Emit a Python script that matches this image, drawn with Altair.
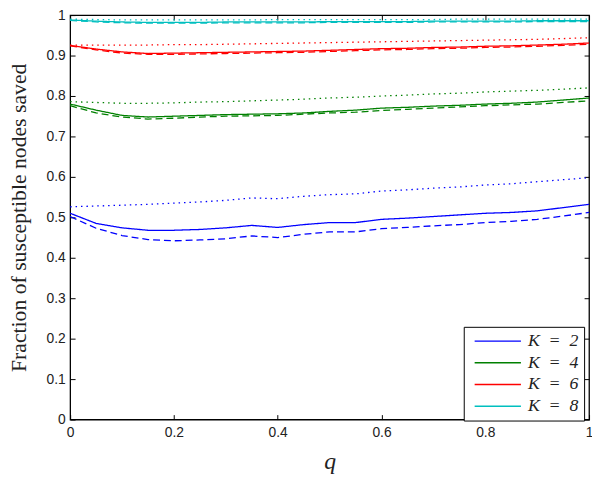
import altair as alt
import pandas as pd

q = [round(i * 0.05, 2) for i in range(21)]

k_labels = ["K\u2002=\u20022", "K\u2002=\u20024", "K\u2002=\u20026", "K\u2002=\u20028"]
k_colors = ["#0000ff", "#008000", "#ff0000", "#00bfbf"]
styles = ["solid", "dashed", "dotted"]
dashes = [[1, 0], [7, 4], [1.5, 4]]

k2_solid = [0.510, 0.485, 0.474, 0.468, 0.468, 0.470, 0.474, 0.480, 0.475, 0.482, 0.487,
            0.487, 0.495, 0.498, 0.502, 0.506, 0.510, 0.512, 0.516, 0.524, 0.532]
k2_dashed = [0.502, 0.473, 0.455, 0.445, 0.442, 0.444, 0.447, 0.454, 0.450, 0.458, 0.464,
             0.464, 0.472, 0.475, 0.479, 0.482, 0.487, 0.490, 0.495, 0.503, 0.512]
k2_dotted = [0.526, 0.528, 0.530, 0.532, 0.535, 0.538, 0.542, 0.548, 0.546, 0.552, 0.556,
             0.558, 0.565, 0.568, 0.572, 0.575, 0.580, 0.583, 0.588, 0.593, 0.598]

k4_solid = [0.780, 0.765, 0.752, 0.748, 0.750, 0.752, 0.754, 0.755, 0.756, 0.758, 0.762,
            0.765, 0.770, 0.772, 0.775, 0.777, 0.780, 0.782, 0.785, 0.790, 0.795]
k4_dashed = [0.776, 0.758, 0.748, 0.743, 0.745, 0.748, 0.750, 0.751, 0.752, 0.755, 0.758,
             0.760, 0.764, 0.767, 0.770, 0.773, 0.776, 0.778, 0.780, 0.784, 0.788]
k4_dotted = [0.786, 0.784, 0.782, 0.782, 0.783, 0.785, 0.786, 0.788, 0.790, 0.792, 0.795,
             0.797, 0.800, 0.802, 0.805, 0.807, 0.810, 0.812, 0.814, 0.817, 0.820]

k6_solid = [0.925, 0.916, 0.909, 0.905, 0.906, 0.907, 0.908, 0.909, 0.910, 0.911, 0.913,
            0.915, 0.917, 0.918, 0.920, 0.921, 0.923, 0.924, 0.926, 0.928, 0.931]
k6_dashed = [0.924, 0.914, 0.906, 0.903, 0.903, 0.904, 0.905, 0.906, 0.907, 0.908, 0.910,
             0.912, 0.914, 0.915, 0.917, 0.918, 0.920, 0.921, 0.923, 0.925, 0.928]
k6_dotted = [0.926, 0.926, 0.926, 0.926, 0.927, 0.927, 0.928, 0.929, 0.930, 0.931, 0.932,
             0.933, 0.934, 0.935, 0.936, 0.937, 0.938, 0.939, 0.940, 0.942, 0.944]

k8_solid = [0.988, 0.985, 0.983, 0.982, 0.982, 0.982, 0.983, 0.983, 0.983, 0.983, 0.984,
            0.984, 0.984, 0.984, 0.985, 0.985, 0.985, 0.985, 0.986, 0.986, 0.986]
k8_dashed = [0.987, 0.983, 0.981, 0.980, 0.980, 0.980, 0.981, 0.981, 0.981, 0.981, 0.982,
             0.982, 0.982, 0.982, 0.983, 0.983, 0.983, 0.983, 0.984, 0.984, 0.984]
k8_dotted = [0.990, 0.989, 0.988, 0.988, 0.988, 0.988, 0.988, 0.988, 0.989, 0.989, 0.989,
             0.989, 0.989, 0.989, 0.989, 0.990, 0.990, 0.990, 0.990, 0.990, 0.990]

x_ticks = [0, 0.2, 0.4, 0.6, 0.8, 1]
y_ticks = [round(i * 0.1, 1) for i in range(11)]

series = {
    k_labels[0]: [k2_solid, k2_dashed, k2_dotted],
    k_labels[1]: [k4_solid, k4_dashed, k4_dotted],
    k_labels[2]: [k6_solid, k6_dashed, k6_dotted],
    k_labels[3]: [k8_solid, k8_dashed, k8_dotted],
}
rows = []
for klab, lst in series.items():
    for style, vals in zip(styles, lst):
        for qi, v in zip(q, vals):
            rows.append({"q": qi, "v": v, "K": klab, "style": style})
df = pd.DataFrame(rows)

xs = alt.Scale(domain=[0, 1], nice=False, zero=False)
ys = alt.Scale(domain=[0, 1], nice=False, zero=False)

LF = "Liberation Sans"
SF = "Liberation Serif"

lines = alt.Chart(df).mark_line(strokeWidth=1.3).encode(
    x=alt.X("q:Q", scale=xs, axis=alt.Axis(
        values=x_ticks, format="~g", ticks=False, domain=False, grid=False,
        labelFont=LF, labelFontSize=14, labelColor="#222", labelPadding=6,
        labelFlush=False, labelOverlap=False,
        title="q", titleFont=SF, titleFontStyle="italic", titleFontWeight="normal",
        titleFontSize=24, titleColor="#222", titlePadding=11)),
    y=alt.Y("v:Q", scale=ys, axis=alt.Axis(
        values=y_ticks, format="~g", ticks=False, domain=False, grid=False,
        labelFont=LF, labelFontSize=14, labelColor="#222", labelPadding=5,
        labelFlush=False, labelOverlap=False,
        title="Fraction of susceptible nodes saved", titleFont=SF,
        titleFontWeight="normal", titleFontSize=22, titleColor="#222",
        titlePadding=16)),
    color=alt.Color("K:N", scale=alt.Scale(domain=k_labels, range=k_colors),
                    sort=k_labels,
                    legend=alt.Legend(title=None, orient="none", legendX=399, legendY=316,
                                      symbolType="M-2.76,0H2.76", symbolSize=289,
                                      symbolOffset=20,
                                      symbolStrokeWidth=1.5, labelFont=SF,
                                      labelFontStyle="italic", labelFontSize=18,
                                      labelColor="#222", labelOffset=21,
                                      strokeColor="black", fillColor="white",
                                      padding=5, rowPadding=3, cornerRadius=0)),
    strokeDash=alt.StrokeDash("style:N", scale=alt.Scale(domain=styles, range=dashes),
                              legend=None),
)


def tick_layer(xo, yo):
    return alt.Chart(df).mark_point(opacity=0).encode(
        x=alt.X("q:Q", scale=xs, axis=alt.Axis(
            orient=xo, values=x_ticks, labels=False, domain=False, grid=False,
            ticks=True, tickSize=5, offset=-5, tickColor="black", title=None)),
        y=alt.Y("v:Q", scale=ys, axis=alt.Axis(
            orient=yo, values=y_ticks, labels=False, domain=False, grid=False,
            ticks=True, tickSize=5, offset=-5, tickColor="black", title=None)),
    )


chart = alt.layer(lines, tick_layer("bottom", "left"), tick_layer("top", "right")).resolve_axis(
    x="independent", y="independent"
).properties(
    width=526, height=410,
    autosize=alt.AutoSizeParams(type="none"),
    padding={"left": 63, "top": 4, "right": 3, "bottom": 52},
).configure_view(stroke="black", strokeWidth=1.3)

chart.save("out.html", embed_options={"renderer": "svg", "actions": False})
